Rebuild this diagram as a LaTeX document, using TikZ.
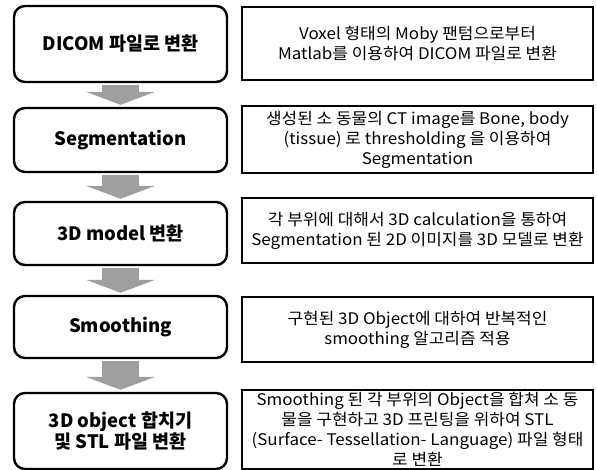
\documentclass[tikz,border=0pt]{standalone}
\usepackage{fontspec}
\setmainfont{Noto Sans CJK KR}
\newfontfamily\descfont[FakeStretch=1.06]{Noto Sans CJK KR}
\usetikzlibrary{positioning,calc,arrows,arrows.meta}
\tikzset{font=\normalsize}

\begin{document}
\begin{tikzpicture}
	\begin{scope}[x=1pt, y=-1pt]
		\tikzstyle{stage}=[draw, line width=2.4pt, rounded corners=11pt, minimum width=213pt, align=center, inner sep=1pt, font=\fontsize{18.5}{19}\selectfont\bfseries]
		\tikzstyle{desc}=[draw, line width=2.4pt, minimum width=351pt, align=center, inner sep=1pt, font=\fontsize{16}{20}\descfont]
		\tikzstyle{flow}=[line width=37pt, gray!75, shorten >=2pt, shorten <=1.5pt, -{Triangle[length=13pt, width=69pt]}]
		\useasboundingbox (0, 0) rectangle (597, 470);

		\node[stage, minimum height=76pt] (dicom) at (120.5, 44) {DICOM 파일로 변환};
		\node[stage, minimum height=64pt] (seg) at (120.5, 140) {Segmentation};
		\node[stage, minimum height=63pt] (model) at (120.5, 233.5) {3D model 변환};
		\node[stage, minimum height=62pt] (smooth) at (120.5, 327) {Smoothing};
		\node[stage, minimum height=76pt] (stl) at (120.5, 431) {3D object 합치기\\및 STL 파일 변환};

		\node[desc, minimum height=73pt] (dicomtxt) at (417.5, 43.5) {Voxel 형태의 Moby 팬텀으로부터\\Matlab를 이용하여 DICOM 파일로 변환};
		\node[desc, minimum height=67pt] (segtxt) at (417.5, 139.5) {생성된 소 동물의 CT image를 Bone, body\\(tissue) 로 thresholding 을 이용하여\\Segmentation};
		\node[desc, minimum height=65pt] (modeltxt) at (417.5, 230.5) {각 부위에 대해서 3D calculation을 통하여\\Segmentation 된 2D 이미지를 3D 모델로 변환};
		\node[desc, minimum height=65pt] (smoothtxt) at (417.5, 329.5) {구현된 3D Object에 대하여 반복적인\\smoothing 알고리즘 적용};
		\node[desc, minimum height=79pt] (stltxt) at (417.5, 429.5) {Smoothing 된 각 부위의 Object을 합쳐 소 동\\물을 구현하고 3D 프린팅을 위하여 STL\\(Surface- Tessellation- Language) 파일 형태\\로 변환};

		\draw [flow] (dicom) to (seg);
		\draw [flow] (seg) to (model);
		\draw [flow] (model) to (smooth);
		\draw [flow] (smooth) to (stl);
	\end{scope}
\end{tikzpicture}
\end{document}
